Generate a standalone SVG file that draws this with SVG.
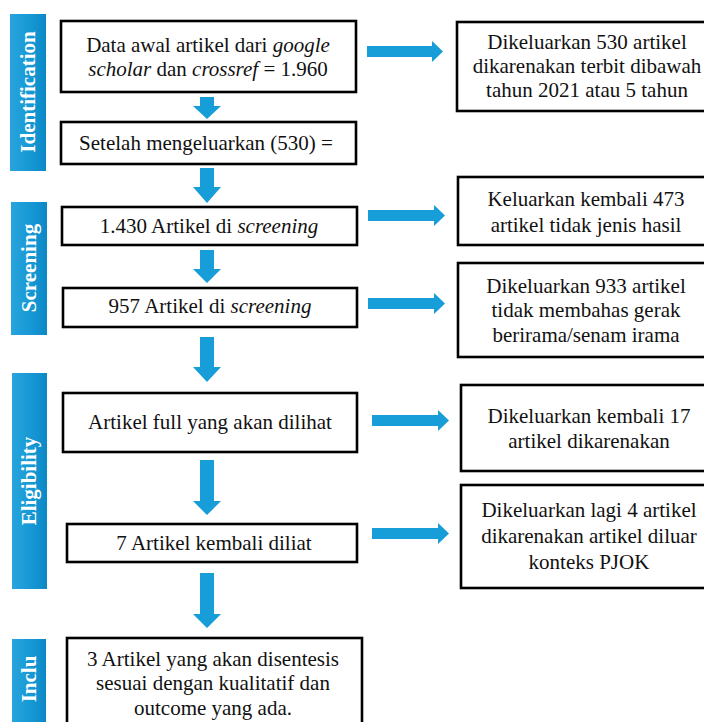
<svg xmlns="http://www.w3.org/2000/svg" width="704" height="722" viewBox="0 0 704 722">
<defs>
<linearGradient id="bar" x1="0" y1="0" x2="1" y2="0">
<stop offset="0" stop-color="#28a4dd"/>
<stop offset="0.6" stop-color="#1597d3"/>
<stop offset="1" stop-color="#0b88c6"/>
</linearGradient>
<style>
.box{fill:#fff;stroke:#000;stroke-width:2.6}
.t{font-family:"Liberation Serif","Times New Roman",serif;font-size:21px;fill:#111;text-anchor:middle}
.i{font-style:italic}
.side{fill:url(#bar)}
.st{font-family:"Liberation Serif","Times New Roman",serif;font-size:21px;font-weight:bold;fill:#fff;text-anchor:middle}
.arr{fill:#179dd7}
</style>
</defs>
<rect width="704" height="722" fill="#fff"/>
<g id="phase-identification"><rect class="side" x="10" y="14" width="36" height="157"/><text class="st" transform="translate(35,92) rotate(-90)">Identification</text></g>
<g id="phase-screening"><rect class="side" x="11" y="202" width="36" height="133"/><text class="st" transform="translate(36,268) rotate(-90)">Screening</text></g>
<g id="phase-eligibility"><rect class="side" x="12" y="373" width="35" height="216"/><text class="st" transform="translate(36,481) rotate(-90)">Eligibility</text></g>
<g id="phase-inclu"><rect class="side" x="12" y="639" width="34" height="83"/><text class="st" transform="translate(36,679) rotate(-90)">Inclu</text></g>

<g id="n1"><rect class="box" x="61" y="21" width="295" height="71"/>
<text class="t" x="208" y="52">Data awal artikel dari <tspan class="i">google</tspan></text>
<text class="t" x="208" y="76"><tspan class="i">scholar</tspan> dan <tspan class="i">crossref</tspan> = 1.960</text></g>
<g id="n2"><rect class="box" x="61" y="122" width="295" height="42"/>
<text class="t" x="206" y="150">Setelah mengeluarkan (530) =</text></g>
<g id="n3"><rect class="box" x="62" y="207" width="295" height="38"/>
<text class="t" x="209" y="233">1.430 Artikel di <tspan class="i">screening</tspan></text></g>
<g id="n4"><rect class="box" x="63" y="288" width="294" height="39"/>
<text class="t" x="210" y="313">957 Artikel di <tspan class="i">screening</tspan></text></g>
<g id="n5"><rect class="box" x="63" y="393" width="294" height="59"/>
<text class="t" x="210" y="429">Artikel full yang akan dilihat</text></g>
<g id="n6"><rect class="box" x="67" y="524" width="290" height="38"/>
<text class="t" x="214" y="550">7 Artikel kembali diliat</text></g>
<g id="n7"><rect class="box" x="67" y="638" width="295" height="90"/>
<text class="t" x="213" y="666">3 Artikel yang akan disentesis</text>
<text class="t" x="213" y="690">sesuai dengan kualitatif dan</text>
<text class="t" x="213" y="715">outcome yang ada.</text></g>

<g id="r1"><rect class="box" x="457" y="22" width="260" height="89"/>
<text class="t" x="587" y="49">Dikeluarkan 530 artikel</text>
<text class="t" x="587" y="73">dikarenakan terbit dibawah</text>
<text class="t" x="587" y="97">tahun 2021 atau 5 tahun</text></g>
<g id="r2"><rect class="box" x="458" y="177" width="260" height="68"/>
<text class="t" x="586" y="206">Keluarkan kembali 473</text>
<text class="t" x="586" y="232">artikel tidak jenis hasil</text></g>
<g id="r3"><rect class="box" x="458" y="263" width="260" height="94"/>
<text class="t" x="586" y="293">Dikeluarkan 933 artikel</text>
<text class="t" x="586" y="317">tidak membahas gerak</text>
<text class="t" x="586" y="342">berirama/senam irama</text></g>
<g id="r4"><rect class="box" x="461" y="385" width="260" height="86"/>
<text class="t" x="589" y="423">Dikeluarkan kembali 17</text>
<text class="t" x="589" y="448">artikel dikarenakan</text></g>
<g id="r5"><rect class="box" x="461" y="485" width="260" height="103"/>
<text class="t" x="589" y="517">Dikeluarkan lagi 4 artikel</text>
<text class="t" x="589" y="543">dikarenakan artikel diluar</text>
<text class="t" x="589" y="569">konteks PJOK</text></g>

<g id="connectors">
<polygon class="arr" points="200,97 214,97 214,106 221,106 207,119 193,106 200,106"/>
<polygon class="arr" points="200,168 214,168 214,187 221,187 207,203 193,187 200,187"/>
<polygon class="arr" points="200,250 214,250 214,269 221,269 207,283 193,269 200,269"/>
<polygon class="arr" points="200,337 214,337 214,367 221,367 207,382 193,367 200,367"/>
<polygon class="arr" points="200,460 214,460 214,501 221,501 207,515 193,501 200,501"/>
<polygon class="arr" points="200,573 214,573 214,614 221,614 207,628 193,614 200,614"/>
<polygon class="arr" points="367,46 432,46 432,41 443,51.5 432,62 432,57 367,57"/>
<polygon class="arr" points="368,210 434,210 434,205 445,215.5 434,226 434,221 368,221"/>
<polygon class="arr" points="368,298 434,298 434,293 445,303.5 434,314 434,309 368,309"/>
<polygon class="arr" points="372,415 438,415 438,410 449,420.5 438,431 438,426 372,426"/>
<polygon class="arr" points="372,528 438,528 438,523 449,533.5 438,544 438,539 372,539"/>
</g>
</svg>
